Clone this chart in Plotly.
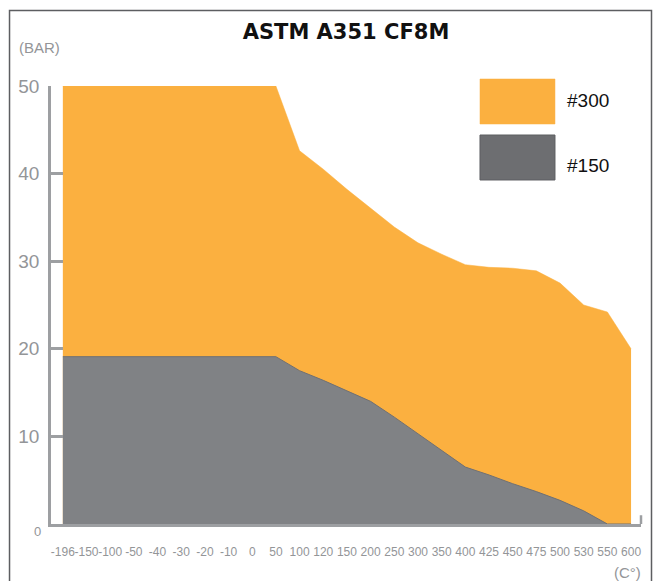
import plotly.graph_objects as go

temps = ["-196", "-150", "-100", "-50", "-40", "-30", "-20", "-10", "0", "50",
         "100", "120", "150", "200", "250", "300", "350", "400", "425", "450",
         "475", "500", "530", "550", "600"]
class300 = [50, 50, 50, 50, 50, 50, 50, 50, 50, 50,
            42.6, 40.5, 38.2, 36.0, 33.9, 32.1, 30.8, 29.6, 29.3, 29.2,
            28.9, 27.5, 25.0, 24.2, 20.0]
class150 = [19.1, 19.1, 19.1, 19.1, 19.1, 19.1, 19.1, 19.1, 19.1, 19.1,
            17.5, 16.4, 15.2, 14.0, 12.2, 10.3, 8.4, 6.5, 5.6, 4.6,
            3.7, 2.7, 1.5, 0, 0]
y_ticks = [10, 20, 30, 40, 50]

ORANGE = "#FBB040"
GRAY = "#808285"
GRAY_DARK = "#6D6E71"
AXIS = "#9D9FA2"
TXT = "#939598"

fig = go.Figure()
fig.add_trace(go.Scatter(x=temps, y=class300, mode="lines", fill="tozeroy",
                         fillcolor=ORANGE, line=dict(color=ORANGE, width=0.5),
                         name="#300", hoverinfo="x+y"))
fig.add_trace(go.Scatter(x=temps, y=class150, mode="lines", fill="tozeroy",
                         fillcolor=GRAY, line=dict(color="#6f7073", width=1),
                         name="#150", hoverinfo="x+y"))

fig.update_layout(
    width=654, height=581,
    margin=dict(l=51, r=13, t=86, b=57),
    paper_bgcolor="white", plot_bgcolor="white",
    showlegend=False,
    font=dict(family="Liberation Sans, Arial, sans-serif", color=TXT),
    title=dict(text="<b>ASTM A351 CF8M</b>", x=0.5, xanchor="center",
               xref="paper", y=1 - 32 / 581, yanchor="middle",
               font=dict(family="DejaVu Sans", size=21, color="#111111")),
)

fig.update_xaxes(type="category", range=[-0.5, 24.42], showgrid=False,
                 zeroline=False, showline=True, linecolor=AXIS, linewidth=2.5,
                 ticks="", tickangle=0, ticklabelstandoff=15,
                 tickfont=dict(size=12, color=TXT), fixedrange=True)
fig.update_yaxes(range=[0, 50], showgrid=False, zeroline=False,
                 showline=True, linecolor=AXIS, linewidth=2.5,
                 tickvals=y_ticks, ticktext=[str(v) for v in y_ticks],
                 ticks="inside", ticklen=12, tickwidth=2.5, tickcolor=AXIS,
                 ticklabelstandoff=5,
                 tickfont=dict(size=19, color=TXT), fixedrange=True)

# right end cap of the x axis
fig.add_shape(type="line", xref="x domain", yref="paper", x0=1, x1=1,
              y0=0, y1=0.02, line=dict(color=AXIS, width=2.5))

# outer frame
fig.add_shape(type="rect", xref="paper", yref="paper",
              x0=-0.0703, x1=1.0178, y0=-0.2, y1=1.1724,
              line=dict(color="#5d5e61", width=1.5), layer="below")

# legend swatches
fig.add_shape(type="rect", xref="paper", yref="paper",
              x0=0.7271, x1=0.8542, y0=0.9132, y1=1.016,
              fillcolor=ORANGE, line=dict(color=ORANGE, width=0.5))
fig.add_shape(type="rect", xref="paper", yref="paper",
              x0=0.7271, x1=0.8542, y0=0.7854, y1=0.8881,
              fillcolor=GRAY_DARK, line=dict(color="#5d5e61", width=1))

fig.add_annotation(text="#300", xref="paper", yref="paper", x=0.8712,
                   y=0.9658, xanchor="left", yanchor="middle", showarrow=False,
                   font=dict(size=19, color="#111111"))
fig.add_annotation(text="#150", xref="paper", yref="paper", x=0.8712,
                   y=0.8174, xanchor="left", yanchor="middle", showarrow=False,
                   font=dict(size=19, color="#111111"))

fig.add_annotation(text="(BAR)", xref="paper", yref="paper", x=-0.058,
                   y=(524 - 48) / 438, xanchor="left", yanchor="middle",
                   showarrow=False, font=dict(size=15, color=TXT))
fig.add_annotation(text="0", xref="paper", yref="y", x=(37 - 51) / 590,
                   y=0, yshift=-7, xanchor="center", yanchor="middle",
                   showarrow=False, font=dict(size=13, color=TXT))
fig.add_annotation(text="(C°)", xref="paper", yref="paper", x=(643 - 51) / 590,
                   y=(524 - 572) / 438, xanchor="right", yanchor="middle",
                   showarrow=False, font=dict(size=15, color=TXT))

fig.write_html("out.html", config={"displayModeBar": False},
               post_script="document.body.style.margin='0';"
                           "document.body.style.overflow='hidden';")
